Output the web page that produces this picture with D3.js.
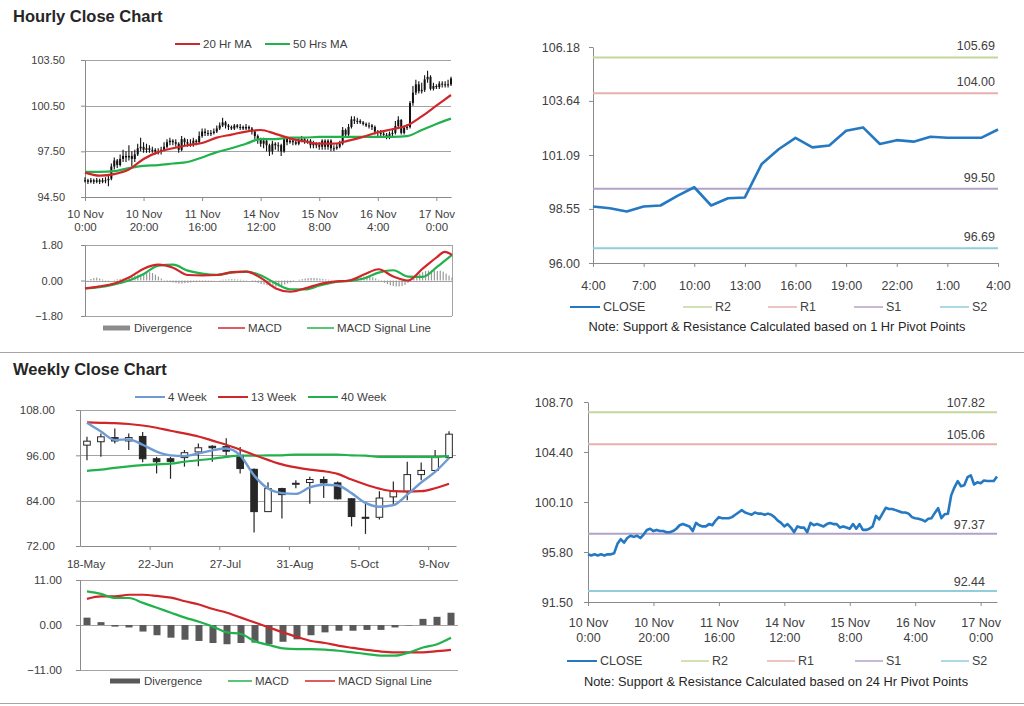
<!DOCTYPE html>
<html><head><meta charset="utf-8">
<script src="https://cdn.jsdelivr.net/npm/d3@7"></script>
<style>
body{margin:0;background:#fff;}
svg{display:block;}
</style></head><body>
<svg id="c" width="1024" height="706"></svg>
<script>
// ---------------- DATA ----------------
// Hourly bars, 10 Nov 0:00 .. 17 Nov 5:00 (126 trading hours)
const hourClose = [95.6,95.5,95.6,95.5,95.6,95.5,95.6,95.6,95.7,
 96.5,96.9,96.6,97.0,97.2,97.1,97.2,97.0,97.3,97.7,97.8,97.6,
 97.7,97.6,97.6,97.5,97.5,97.6,97.8,98.1,98.2,98.1,98.0,97.6,98.3,98.1,98.0,98.0,98.2,98.1,98.5,98.8,
 98.7,98.7,98.7,98.8,99.0,99.2,99.4,99.2,99.1,99.0,99.2,99.1,99.1,99.0,99.1,99.0,98.8,98.5,98.3,98.0,
 98.2,97.9,97.5,98.0,97.9,97.9,97.5,98.3,98.1,98.2,98.1,98.0,98.2,98.3,98.2,98.2,97.9,98.0,97.9,97.8,
 98.2,97.8,98.2,97.7,97.7,97.8,98.0,98.9,98.6,99.1,99.6,99.5,99.5,99.4,99.3,99.2,99.2,99.1,98.8,98.7,
 98.66,98.58,98.43,98.66,98.71,99.16,99.57,98.71,99.05,99.09,100.67,101.36,101.90,101.45,101.54,102.23,102.39,101.61,101.79,101.72,101.95,101.90,101.90,101.90,102.29];
const hourOpen = [95.6,95.6,95.5,95.6,95.5,95.6,95.5,95.6,95.6,95.7,
 96.5,96.9,96.6,97.0,97.2,97.1,97.2,97.0,97.3,97.7,97.8,
 97.6,97.7,97.6,97.6,97.5,97.5,97.6,97.8,98.1,98.2,98.1,98.0,97.6,98.3,98.1,98.0,98.0,98.2,98.1,98.5,
 98.8,98.7,98.7,98.7,98.8,99.0,99.2,99.4,99.2,99.1,99.0,99.2,99.1,99.1,99.0,99.1,99.0,98.8,98.5,98.3,
 98.0,98.2,97.9,97.5,98.0,97.9,97.9,97.5,98.3,98.1,98.2,98.1,98.0,98.2,98.3,98.2,98.2,97.9,98.0,97.9,
 97.8,98.2,97.8,98.2,97.7,97.7,97.8,98.0,98.9,98.6,99.1,99.6,99.5,99.5,99.4,99.3,99.2,99.2,99.1,98.8,
 98.7,98.66,98.58,98.43,98.66,98.71,99.16,99.57,98.71,99.05,99.09,100.67,101.36,101.90,101.45,101.54,102.23,102.39,101.61,101.79,101.72,101.95,101.90,101.90,101.90];
const hourHigh = [95.8,95.7,95.75,95.7,95.75,95.7,95.75,95.8,95.9,96.7,
 97.1,97.0,97.3,97.6,97.5,97.9,97.5,97.6,98.0,98.4,
 98.1,98.0,97.9,97.8,97.7,97.7,97.8,98.1,98.3,98.4,
 98.3,98.3,98.1,98.5,98.4,98.3,98.3,98.4,98.3,98.8,
 99.0,99.0,98.9,98.9,99.0,99.2,99.4,99.7,99.5,99.3,
 99.2,99.3,99.3,99.3,99.2,99.3,99.2,99.1,98.9,98.6,
 98.4,98.4,98.3,98.0,98.2,98.1,98.1,98.0,98.5,98.4,
 98.4,98.3,98.3,98.4,98.5,98.4,98.3,98.3,98.2,98.1,
 98.1,98.3,98.3,98.3,98.3,97.9,98.0,98.2,99.1,99.0,
 99.3,99.8,99.8,99.7,99.6,99.5,99.4,99.4,99.3,99.2,
 98.9,98.9,98.8,98.7,98.8,99.0,99.5,99.8,99.6,99.2,
 99.3,100.8,101.8,102.2,102.1,102.0,102.5,102.8,102.5,102.0,
 101.9,102.1,102.1,102.1,102.2,102.4];
const hourLow = [95.45,95.35,95.4,95.35,95.4,95.35,95.4,95.4,95.2,95.6,
 96.3,96.4,96.5,96.8,96.8,96.9,96.5,96.8,97.2,97.5,
 97.4,97.4,97.4,97.4,97.3,97.3,97.3,97.5,97.7,97.9,
 97.9,97.8,97.4,97.5,97.9,97.8,97.8,97.8,97.9,98.0,
 98.4,98.5,98.5,98.5,98.6,98.7,98.9,99.1,99.0,98.9,
 98.9,98.9,99.0,98.9,98.9,98.9,98.8,98.6,98.3,98.0,
 97.8,97.7,97.5,97.2,97.3,97.6,97.5,97.2,97.4,97.9,
 98.0,97.9,97.9,97.9,98.1,98.0,98.0,97.7,97.7,97.7,
 97.6,97.6,97.6,97.6,97.5,97.5,97.6,97.7,97.9,98.4,
 98.5,99.0,99.3,99.3,99.3,99.2,99.1,99.0,98.9,98.6,
 98.5,98.5,98.4,98.3,98.3,98.5,98.6,99.0,98.6,98.6,
 98.9,99.0,100.5,101.2,101.3,101.3,101.4,102.0,101.5,101.5,
 101.6,101.6,101.7,101.7,101.7,101.8];
// moving averages, read every 5 hours
const maHours = [0,5,10,15,20,25,30,35,40,45,50,55,60,65,70,75,80,85,90,95,100,105,110,115,120,125];
const ma20 = [96.1,95.9,96.0,96.3,97.0,97.45,97.7,97.9,98.05,98.4,98.6,98.8,98.9,98.65,98.35,98.15,98.0,98.0,98.2,98.45,98.75,98.95,99.2,99.8,100.5,101.2];
const ma50 = [96.15,96.15,96.2,96.4,96.55,96.6,96.7,96.8,97.1,97.45,97.7,98.0,98.3,98.3,98.4,98.4,98.45,98.45,98.45,98.45,98.45,98.45,98.5,98.9,99.3,99.65];
// hourly MACD
const macdHours = [0,5,10,15,20,25,30,35,40,45,50,55,60,65,70,75,80,85,90,95,100,105,110,115,120,122.5,125];
const hourMacd = [-0.4,-0.3,-0.15,0.15,0.6,0.8,0.65,0.28,0.26,0.28,0.42,0.45,0.12,-0.4,-0.57,-0.4,-0.18,-0.06,0.0,0.3,0.57,0.2,0.0,0.6,1.2,1.45,1.3];
const hourSignal = [-0.4,-0.34,-0.2,0.0,0.33,0.75,0.8,0.5,0.35,0.29,0.4,0.45,0.25,-0.15,-0.45,-0.45,-0.25,-0.08,-0.02,0.1,0.4,0.52,0.2,0.18,0.7,1.0,1.3];
const hourDivergence = [0.0,0.02,0.08,0.12,0.15,0.1,0.05,
 0.02,-0.02,0.0,0.03,0.06,0.08,0.1,
 0.15,0.2,0.22,0.25,0.3,0.32,0.35,0.38,0.42,0.38,0.3,0.2,0.1,
 0.02,-0.05,-0.08,-0.1,-0.12,-0.15,-0.15,-0.13,-0.12,-0.1,-0.08,-0.08,-0.06,-0.05,-0.04,-0.03,-0.02,-0.01,
 0.0,0.02,0.04,0.05,0.06,0.07,0.06,0.05,0.04,0.03,0.02,0.0,-0.04,
 -0.08,-0.12,-0.17,-0.2,-0.24,-0.28,-0.3,-0.32,-0.3,-0.26,-0.2,-0.15,-0.1,-0.05,0.0,
 0.04,0.07,0.1,0.12,0.13,0.13,0.12,0.1,0.08,0.06,0.04,0.03,0.02,0.02,0.02,0.03,0.04,0.06,0.08,0.11,0.14,0.17,0.2,
 0.22,0.2,0.16,0.1,0.04,-0.04,
 -0.12,-0.18,-0.24,-0.28,-0.3,-0.3,-0.28,-0.22,-0.12,0.0,0.12,
 0.25,0.35,0.42,0.48,0.5,0.52,0.5,0.48,0.5,0.45,0.35,0.25,0.15];
const hourTickIdx = [0,20,40,60,80,100,120];
const hourTickDay = ["10 Nov","10 Nov","11 Nov","14 Nov","15 Nov","16 Nov","17 Nov"];
const hourTickTime = ["0:00","20:00","16:00","12:00","8:00","4:00","0:00"];
// 1 Hr pivot chart (last 25 hours)
const pivotTimeLabels = ["4:00","7:00","10:00","13:00","16:00","19:00","22:00","1:00","4:00"];
const pivotNames = ["R2","R1","S1","S2"];
const hourPivots = [105.69,104.00,99.50,96.69];
const hourPivotTicks = [96.00,98.55,101.09,103.64,106.18];
const dayPivots = [107.82,105.06,97.37,92.44];
const dayPivotTicks = [91.50,95.80,100.10,104.40,108.70];
// Weekly
const weekOpen  = [98.7,99.6,100.7,99.8,101.0,95.1,95.1,95.4,96.9,98.4,98.3,96.0,92.3,81.1,87.2,88.6,88.8,89.6,88.7,84.5,79.6,79.6,85.0,86.5,90.9,92.0,95.4];
const weekHigh  = [100.9,101.8,103.1,101.8,102.2,95.6,95.6,97.4,99.1,98.7,100.5,98.2,92.5,88.9,87.4,89.4,90.3,90.4,89.1,84.7,83.6,86.5,89.1,94.3,94.1,97.4,102.4];
const weekLow   = [94.7,95.6,99.1,97.4,94.2,91.2,89.8,93.0,93.1,94.3,96.0,91.2,75.6,81.0,79.3,87.3,83.2,84.7,84.3,77.2,75.2,79.0,82.6,84.1,89.4,91.6,95.1];
const weekClose = [99.75,100.9,99.8,100.7,95.1,94.3,94.4,96.7,98.0,98.0,97.1,92.5,81.1,87.2,85.6,88.6,89.6,88.7,84.5,79.8,79.4,84.7,86.5,90.9,92.0,95.4,101.6];
const ma4w  = [104.6,102.3,100.1,100.2,98.8,97.0,96.0,95.8,96.5,97.3,97.8,96.0,90.7,87.2,86.0,85.8,87.5,88.2,88.0,86.0,83.4,82.4,82.8,85.6,88.8,91.6,95.3];
const ma13w = [104.7,104.6,104.5,104.3,103.9,103.3,102.5,101.8,101.0,99.9,98.8,97.5,96.1,94.8,93.6,92.8,92.2,91.8,91.1,89.6,88.3,87.2,86.5,86.4,86.5,87.3,88.5];
const ma40w = [91.9,92.2,92.7,93.1,93.4,93.6,93.8,94.3,94.7,95.1,95.6,95.9,95.9,96.0,96.0,96.2,96.2,96.2,96.2,96.0,95.9,95.6,95.6,95.6,95.6,95.6,95.8];
const weekMacd   = [8.2,7.6,6.6,6.6,5.4,4.2,3.0,1.8,0.8,-0.4,-1.8,-2.2,-4.0,-4.9,-5.7,-5.9,-5.9,-6.0,-6.3,-6.7,-7.1,-7.5,-7.5,-6.7,-5.5,-4.7,-3.1];
const weekSignal = [6.4,7.0,7.0,7.4,7.4,7.1,6.7,5.8,5.0,3.9,3.0,1.8,0.6,-0.6,-1.8,-2.9,-3.9,-4.4,-5.1,-5.6,-6.1,-6.5,-6.7,-6.7,-6.7,-6.4,-6.1];
const weekDivergence = [1.8,0.7,-0.4,-0.6,-1.6,-2.5,-3.1,-3.6,-3.9,-4.4,-4.7,-4.4,-4.3,-4.7,-4.1,-3.5,-2.5,-1.8,-1.4,-1.4,-1.2,-1.2,-0.6,-0.1,1.5,2.0,3.0];
const weekTickIdx = [0,5,10,15,20,25];
const weekTickLabels = ["18-May","22-Jun","27-Jul","31-Aug","5-Oct","9-Nov"];

// ---------------- STYLE ----------------
const FONT = '"Liberation Sans", Arial, Helvetica, sans-serif';
const AX = "#8a8a8a", GRID = "#a3a3a3", TXT = "#404040";
const RED = "#d0262a", GREEN = "#22b24c", LBLUE = "#6d9bd3", CBLUE = "#2578c2";
const PIV = ["#c3d69b","#e6b0ae","#b3a2c7","#92cddc"];

const svg = d3.select("#c").attr("font-family", FONT);
svg.append("rect").attr("width",1024).attr("height",706).attr("fill","#fff");

function styleAxis(g, fs){
  g.attr("font-family",FONT).attr("font-size",fs);
  g.select(".domain").attr("stroke",AX);
  g.selectAll(".tick line").attr("stroke",AX);
  g.selectAll(".tick text").attr("fill",TXT);
}
function yAxis(scale, x0, ticks, fs, gap){
  const g = svg.append("g").attr("transform",`translate(${x0},0)`)
    .call(d3.axisLeft(scale).tickValues(ticks).tickFormat(d3.format(".2f")).tickSize(4).tickSizeOuter(0).tickPadding(gap));
  styleAxis(g, fs); return g;
}
function grid(scale, x0, x1, ticks){
  svg.append("g").selectAll("line").data(ticks).join("line")
    .attr("x1",x0).attr("x2",x1).attr("y1",d=>Math.round(scale(d))+0.5).attr("y2",d=>Math.round(scale(d))+0.5)
    .attr("stroke",GRID).attr("stroke-width",1);
}
function text(x,y,s,fs,anchor,fill,weight){
  return svg.append("text").attr("x",x).attr("y",y).text(s).attr("font-size",fs)
    .attr("text-anchor",anchor||"start").attr("fill",fill||TXT).attr("font-weight",weight||"normal");
}
function legLine(x,y,len,color,w,label,fs){
  svg.append("line").attr("x1",x).attr("x2",x+len).attr("y1",y).attr("y2",y).attr("stroke",color).attr("stroke-width",w);
  text(x+len+3,y+4,label,fs);
}
function legRect(x,y,len,color,label,fs){
  svg.append("rect").attr("x",x).attr("y",y-2.5).attr("width",len).attr("height",5).attr("fill",color);
  text(x+len+4,y+4,label,fs);
}
function twoLineX(g, days, times, lh){
  g.selectAll(".tick text").each(function(d,i){
    const t = d3.select(this); t.text(null).attr("dy",null);
    t.append("tspan").attr("x",0).attr("dy","0.71em").text(days[i]);
    t.append("tspan").attr("x",0).attr("dy",lh).text(times[i]);
  });
}

// titles & separators
text(13,22,"Hourly Close Chart",16.5,"start","#262626","bold");
text(13,375,"Weekly Close Chart",16.5,"start","#262626","bold");
[352.5,703.5].forEach(y=>svg.append("line").attr("x1",0).attr("x2",1024).attr("y1",y).attr("y2",y).attr("stroke","#a6a6a6"));

// ========== Panel A: hourly candles ==========
const xA = d3.scaleLinear().domain([0,125]).range([85,451]);
const yA = d3.scaleLinear().domain([94.5,103.5]).range([197,60]);
grid(yA,85,451,[97.5,100.5,103.5]);
yAxis(yA,85,[94.5,97.5,100.5,103.5],11,16);
{
  const g = svg.append("g").attr("transform","translate(0,197)")
    .call(d3.axisBottom(xA).tickValues(hourTickIdx).tickSize(4).tickSizeOuter(0).tickPadding(9));
  styleAxis(g,11.5); twoLineX(g,hourTickDay,hourTickTime,"1.15em");
}
const idx = d3.range(hourClose.length);
svg.append("g").selectAll("line").data(idx).join("line")
  .attr("x1",i=>xA(i)).attr("x2",i=>xA(i)).attr("y1",i=>yA(hourHigh[i])).attr("y2",i=>yA(hourLow[i]))
  .attr("stroke","#111").attr("stroke-width",1.1);
svg.append("g").selectAll("rect").data(idx).join("rect")
  .attr("x",i=>xA(i)-1).attr("width",2)
  .attr("y",i=>yA(Math.max(hourOpen[i],hourClose[i])))
  .attr("height",i=>Math.max(1,Math.abs(yA(hourOpen[i])-yA(hourClose[i]))))
  .attr("fill","#111");
const lineA = d3.line().x((d,i)=>xA(maHours[i])).y(d=>yA(d)).curve(d3.curveMonotoneX);
svg.append("path").attr("d",lineA(ma50)).attr("fill","none").attr("stroke",GREEN).attr("stroke-width",2.2);
svg.append("path").attr("d",lineA(ma20)).attr("fill","none").attr("stroke",RED).attr("stroke-width",2.2);
legLine(175,44,25,RED,2,"20 Hr MA",11.5);
legLine(265,44,25,GREEN,2,"50 Hrs MA",11.5);

// ========== Panel A2: hourly MACD ==========
const xM = d3.scaleLinear().domain([0,125]).range([85,452]);
const yM = d3.scaleLinear().domain([-1.8,1.8]).range([316,245]);
grid(yM,85,452,[-1.8,0,1.8]);
svg.append("line").attr("x1",452.5).attr("x2",452.5).attr("y1",yM(1.8)).attr("y2",yM(-1.8)).attr("stroke",GRID);
yAxis(yM,85,[-1.8,0,1.8],11,18);
svg.append("g").selectAll("rect").data(idx).join("rect")
  .attr("x",i=>xM(i)-0.6).attr("width",1.2)
  .attr("y",i=>yM(Math.max(0,hourDivergence[i]))).attr("height",i=>Math.abs(yM(hourDivergence[i])-yM(0)))
  .attr("fill","#9a9a9a");
const lineM = d3.line().x((d,i)=>xM(macdHours[i])).y(d=>yM(d)).curve(d3.curveMonotoneX);
svg.append("path").attr("d",lineM(hourSignal)).attr("fill","none").attr("stroke",GREEN).attr("stroke-width",2.2);
svg.append("path").attr("d",lineM(hourMacd)).attr("fill","none").attr("stroke",RED).attr("stroke-width",2.2);
legRect(103,328,27,"#8c8c8c","Divergence",11.5);
legLine(218,328,27,RED,1.5,"MACD",11.5);
legLine(307,328,27,GREEN,1.5,"MACD Signal Line",11.5);

// ========== Panel B: 1 hr pivot ==========
const pivotClose = hourClose.slice(-25);
const xB = d3.scaleLinear().domain([0,24]).range([593,998]);
const yB = d3.scaleLinear().domain([96,106.18]).range([263,47]);
yAxis(yB,593,hourPivotTicks,12.5,9);
{
  const g = svg.append("g").attr("transform","translate(0,263)")
    .call(d3.axisBottom(xB).tickValues(d3.range(0,25,3)).tickFormat((d,i)=>pivotTimeLabels[i]).tickSize(4).tickSizeOuter(0).tickPadding(14));
  styleAxis(g,12.5);
}
hourPivots.forEach((v,k)=>{
  svg.append("line").attr("x1",593).attr("x2",998).attr("y1",yB(v)).attr("y2",yB(v)).attr("stroke",PIV[k]).attr("stroke-width",2);
  text(995,yB(v)-7,d3.format(".2f")(v),12.5,"end");
});
svg.append("path").attr("d",d3.line().x((d,i)=>xB(i)).y(d=>yB(d))(pivotClose))
  .attr("fill","none").attr("stroke",CBLUE).attr("stroke-width",2.6).attr("stroke-linejoin","round");
legLine(570,307,30,CBLUE,2,"CLOSE",12.5);
[683,768,854,940].forEach((x,k)=>legLine(x,307,29,PIV[k],1.5,pivotNames[k],12.5));
text(777,331,"Note: Support & Resistance Calculated based on 1 Hr Pivot Points",12.8,"middle","#262626");

// ========== Panel C: weekly candles ==========
const xC = d3.scaleBand().domain(d3.range(weekClose.length)).range([80,456]);
const cx = i=>xC(i)+xC.bandwidth()/2;
const xCl = d3.scaleLinear().domain([0,weekClose.length]).range([80,456]);
const yC = d3.scaleLinear().domain([72,108]).range([546,410]);
grid(yC,80,456,[84,96,108]);
yAxis(yC,80,[72,84,96,108],11.5,21);
{
  const g = svg.append("g").attr("transform","translate(0,546)")
    .call(d3.axisBottom(xCl).tickValues([5,10,15,20,25]).tickFormat("").tickSize(4).tickSizeOuter(0));
  styleAxis(g,11.5);
  const g2 = svg.append("g").attr("transform","translate(0,546)")
    .call(d3.axisBottom(xCl).tickValues(weekTickIdx.map(d=>d+0.4)).tickFormat((d,i)=>weekTickLabels[i]).tickSize(0).tickPadding(14));
  styleAxis(g2,11.5); g2.select(".domain").remove();
}
const wi = d3.range(weekClose.length);
svg.append("g").selectAll("line").data(wi).join("line")
  .attr("x1",cx).attr("x2",cx).attr("y1",i=>yC(weekHigh[i])).attr("y2",i=>yC(weekLow[i]))
  .attr("stroke","#262626").attr("stroke-width",1.2);
svg.append("g").selectAll("rect").data(wi).join("rect")
  .attr("x",i=>cx(i)-3.3).attr("width",6.6)
  .attr("y",i=>yC(Math.max(weekOpen[i],weekClose[i])))
  .attr("height",i=>Math.max(1,Math.abs(yC(weekOpen[i])-yC(weekClose[i]))))
  .attr("fill",i=>weekClose[i]>=weekOpen[i]?"#fff":"#262626").attr("stroke","#262626").attr("stroke-width",1);
const lineC = d3.line().x((d,i)=>cx(i)).y(d=>yC(d)).curve(d3.curveMonotoneX);
svg.append("path").attr("d",lineC(ma40w)).attr("fill","none").attr("stroke",GREEN).attr("stroke-width",2.2);
svg.append("path").attr("d",lineC(ma13w)).attr("fill","none").attr("stroke",RED).attr("stroke-width",2.2);
svg.append("path").attr("d",lineC(ma4w)).attr("fill","none").attr("stroke",LBLUE).attr("stroke-width",2.4);
legLine(135,397,30,LBLUE,2,"4 Week",11.5);
legLine(218,397,30,RED,2,"13 Week",11.5);
legLine(308,397,30,GREEN,2,"40 Week",11.5);

// ========== Panel D: weekly MACD ==========
const xD = d3.scaleBand().domain(d3.range(weekClose.length)).range([80,458]);
const dx = i=>xD(i)+xD.bandwidth()/2;
const yD = d3.scaleLinear().domain([-11,11]).range([670,580]);
grid(yD,80,458,[-11,0,11]);
yAxis(yD,80,[-11,0,11],11.5,14);
svg.append("g").selectAll("rect").data(wi).join("rect")
  .attr("x",i=>dx(i)-3.5).attr("width",7)
  .attr("y",i=>yD(Math.max(0,weekDivergence[i]))).attr("height",i=>Math.abs(yD(weekDivergence[i])-yD(0)))
  .attr("fill","#595959");
const lineD = d3.line().x((d,i)=>dx(i)).y(d=>yD(d)).curve(d3.curveMonotoneX);
svg.append("path").attr("d",lineD(weekSignal)).attr("fill","none").attr("stroke",RED).attr("stroke-width",2.2);
svg.append("path").attr("d",lineD(weekMacd)).attr("fill","none").attr("stroke",GREEN).attr("stroke-width",2.2);
legRect(110,681,30,"#595959","Divergence",11.5);
legLine(228,681,24,GREEN,1.5,"MACD",11.5);
legLine(305,681,30,RED,1.5,"MACD Signal Line",11.5);

// ========== Panel E: 24 hr pivot ==========
const xE = d3.scaleLinear().domain([0,125]).range([588,997]);
const yE = d3.scaleLinear().domain([91.5,108.7]).range([602,402]);
yAxis(yE,588,dayPivotTicks,12.5,11);
{
  const g = svg.append("g").attr("transform","translate(0,602)")
    .call(d3.axisBottom(xE).tickValues(hourTickIdx).tickSize(4).tickSizeOuter(0).tickPadding(12));
  styleAxis(g,12.5); twoLineX(g,hourTickDay,hourTickTime,"1.2em");
}
dayPivots.forEach((v,k)=>{
  svg.append("line").attr("x1",588).attr("x2",997).attr("y1",yE(v)).attr("y2",yE(v)).attr("stroke",PIV[k]).attr("stroke-width",2);
  text(985,yE(v)-5,d3.format(".2f")(v),12.5,"end");
});
svg.append("path").attr("d",d3.line().x((d,i)=>xE(i)).y(d=>yE(d))(hourClose))
  .attr("fill","none").attr("stroke",CBLUE).attr("stroke-width",2.6).attr("stroke-linejoin","round");
legLine(567,661,30,CBLUE,2,"CLOSE",12.5);
[681,767,855,941].forEach((x,k)=>legLine(x,661,28,PIV[k],1.5,pivotNames[k],12.5));
text(776,686,"Note:  Support & Resistance Calculated based on 24 Hr Pivot Points",12.8,"middle","#262626");
</script>
</body></html>
